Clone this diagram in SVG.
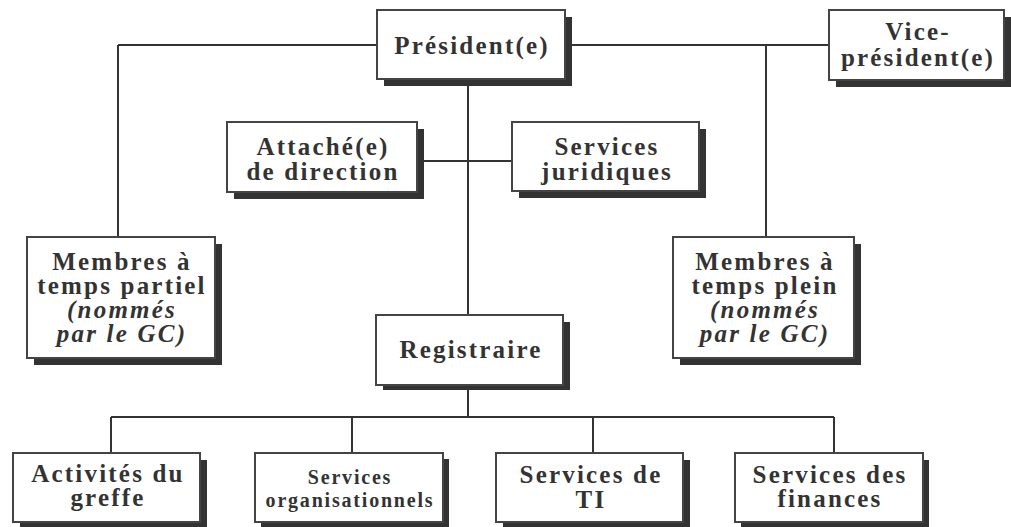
<svg xmlns="http://www.w3.org/2000/svg" width="1011" height="527" viewBox="0 0 1011 527">
<style>
.bx{fill:#fff;stroke:#444;stroke-width:2}
.sh{fill:#333}
.ln{stroke:#333;stroke-width:2;fill:none}
text{font-family:"Liberation Serif","DejaVu Serif",serif;font-weight:bold;font-size:25px;fill:#333;text-anchor:middle;letter-spacing:2.2px}
.it{font-style:italic}
.sm{font-size:20px;letter-spacing:1.8px}
</style>
<rect width="1011" height="527" fill="#fff"/>
<g id="connectors">
<path class="ln" d="M118 45H377M565 45H829M118 45V237M766 45V237M468 79V315M424 161H512M468 385V417M111 417H834M111 417V453M352 417V453M593 417V453M834 417V453"/>
</g>
<g id="president">
<rect class="sh" x="384" y="17" width="188" height="69"/>
<rect class="bx" x="377" y="10" width="188" height="69"/>
<text x="472" y="54">Président(e)</text>
</g>
<g id="vice-president">
<rect class="sh" x="836" y="17" width="175" height="70"/>
<rect class="bx" x="829" y="10" width="175" height="70"/>
<text x="918" y="40">Vice-</text>
<text x="918" y="66">président(e)</text>
</g>
<g id="attache">
<rect class="sh" x="234" y="129" width="190" height="70"/>
<rect class="bx" x="227" y="122" width="190" height="70"/>
<text x="323" y="155">Attaché(e)</text>
<text x="323" y="180">de direction</text>
</g>
<g id="juridiques">
<rect class="sh" x="519" y="129" width="187" height="69"/>
<rect class="bx" x="512" y="122" width="187" height="69"/>
<text x="607" y="155">Services</text>
<text x="607" y="180">juridiques</text>
</g>
<g id="membres-partiel">
<rect class="sh" x="34" y="244" width="188" height="121"/>
<rect class="bx" x="27" y="237" width="188" height="121"/>
<text x="122" y="270">Membres à</text>
<text x="122" y="294">temps partiel</text>
<text class="it" x="122" y="318">(nommés</text>
<text class="it" x="122" y="342">par le GC)</text>
</g>
<g id="membres-plein">
<rect class="sh" x="680" y="244" width="181" height="121"/>
<rect class="bx" x="673" y="237" width="181" height="121"/>
<text x="765" y="270">Membres à</text>
<text x="765" y="294">temps plein</text>
<text class="it" x="765" y="318">(nommés</text>
<text class="it" x="765" y="342">par le GC)</text>
</g>
<g id="registraire">
<rect class="sh" x="383" y="322" width="187" height="68"/>
<rect class="bx" x="376" y="315" width="187" height="70"/>
<text x="471" y="358">Registraire</text>
</g>
<g id="activites">
<rect class="sh" x="20" y="460" width="187" height="69"/>
<rect class="bx" x="13" y="453" width="187" height="69"/>
<text x="108" y="482">Activités du</text>
<text x="108" y="506">greffe</text>
</g>
<g id="organisationnels">
<rect class="sh" x="261" y="459" width="188" height="69"/>
<rect class="bx" x="255" y="453" width="188" height="69"/>
<text class="sm" x="350" y="484">Services</text>
<text class="sm" x="350" y="507">organisationnels</text>
</g>
<g id="ti">
<rect class="sh" x="503" y="460" width="187" height="69"/>
<rect class="bx" x="496" y="453" width="187" height="69"/>
<text x="591" y="483">Services de</text>
<text x="591" y="508">TI</text>
</g>
<g id="finances">
<rect class="sh" x="741" y="460" width="188" height="69"/>
<rect class="bx" x="735" y="453" width="188" height="69"/>
<text x="830" y="483">Services des</text>
<text x="830" y="507">finances</text>
</g>
</svg>
